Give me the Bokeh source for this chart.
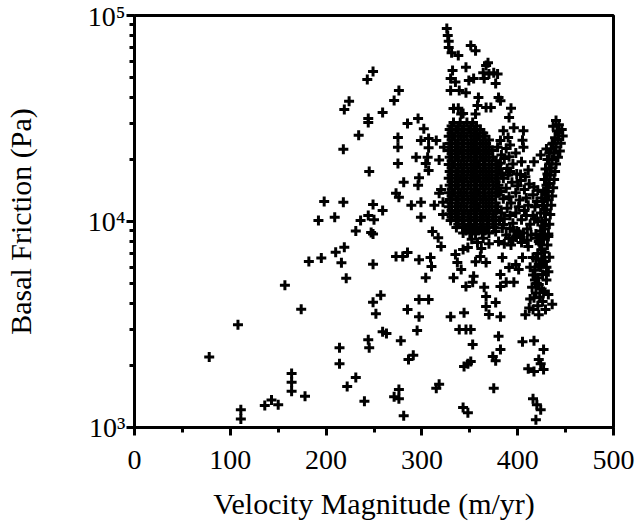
from bokeh.plotting import figure
from bokeh.models import Range1d, FixedTicker, CustomJSTickFormatter
from bokeh.embed import file_html
from bokeh.resources import INLINE

# ---- data: (velocity m/yr, basal friction Pa) ----
sparse_pts = [
    (78, 2200), (108, 3150), (111, 1220), (111, 1100), (136, 1280), (143, 1360), (150, 1290),
    (157, 4900), (164, 1830), (164, 1660), (164, 1500), (174, 3750), (178, 1420), (182, 6400),
    (195, 6650), (210, 7100), (219, 7500), (216, 6300), (221, 5300), (231, 9000), (249, 8700),
    (249, 6200), (249, 4050), (257, 4380), (252, 3570), (214, 2440), (214, 2040), (244, 2670),
    (245, 2440), (259, 2920), (231, 1750), (222, 1580), (240, 1340),
    (234, 26200), (218, 22400), (245, 17500), (198, 12500), (218, 12400), (192, 10100),
    (209, 10500), (249, 12100), (259, 11300), (236, 10100), (244, 10700), (250, 10200),
    (244, 30200), (249, 53500), (243, 48900), (224, 38300), (219, 35000), (244, 31600),
    (259, 33800), (247, 8850),
]

upper_mid_pts = [
    (276, 43200), (271, 38700), (285, 29900), (296, 31600), (302, 28200), (275, 25600),
    (275, 22900), (299, 24700), (307, 25300), (315, 24700), (275, 19100), (294, 20500),
    (304, 19100), (307, 17700), (281, 15500), (297, 16300), (296, 15000), (276, 13100),
    (273, 13700), (289, 12000), (299, 12400), (313, 12000), (318, 13700), (323, 22900),
    (307, 22800), (306, 20500), (318, 19900), (299, 10500), (320, 14300), (322, 12400),
    (322, 10800),
]

spike_pts = [
    (326, 86500), (327, 80000), (328, 75000), (328, 70000), (331, 66000), (338, 64000),
    (351, 71500), (356, 67400), (332, 54100), (346, 56000), (330, 49500), (335, 47500),
    (349, 48300), (354, 49500), (367, 57200), (364, 52700), (370, 52000), (379, 52000),
    (377, 46700), (365, 49500), (369, 59000), (375, 52700), (330, 43200), (339, 43200),
    (346, 42200), (380, 40000), (359, 40000), (358, 36600), (367, 35800), (372, 35800),
    (338, 35500), (341, 33300), (356, 33300), (382, 38600), (393, 35500), (391, 32000),
    (333, 35400), (343, 33400), (385, 27600), (390, 25600), (396, 28500), (406, 27600),
    (405, 24800), (406, 22900), (382, 24700), (379, 22900),
]

core_pts = [
    (333, 30200), (340, 30200), (347, 30200), (353, 30200),
    (329, 28000), (336, 28000), (342, 28000), (349, 28000), (355, 28000), (361, 28000),
    (328, 25900), (334, 25900), (341, 25900), (347, 25900), (354, 25900), (360, 25900), (366, 25900),
    (329, 23900), (335, 23900), (342, 23900), (348, 23900), (354, 23900), (361, 23900), (367, 23900),
    (328, 22100), (335, 22100), (341, 22100), (348, 22100), (354, 22100), (360, 22100), (367, 22100),
    (373, 22100),
    (329, 20500), (335, 20500), (342, 20500), (348, 20500), (355, 20500), (361, 20500), (367, 20500),
    (374, 20500),
    (328, 18900), (334, 18900), (341, 18900), (347, 18900), (354, 18900), (360, 18900), (366, 18900),
    (373, 18900), (379, 18900),
    (329, 17500), (336, 17500), (342, 17500), (348, 17500), (354, 17500), (361, 17500), (367, 17500),
    (373, 17500), (380, 17500),
    (328, 16200), (335, 16200), (341, 16200), (347, 16200), (354, 16200), (360, 16200), (367, 16200),
    (373, 16200), (379, 16200),
    (329, 15000), (335, 15000), (342, 15000), (348, 15000), (355, 15000), (361, 15000), (367, 15000),
    (374, 15000), (380, 15000),
    (328, 13800), (334, 13800), (341, 13800), (347, 13800), (354, 13800), (360, 13800), (366, 13800),
    (373, 13800), (379, 13800),
    (329, 12800), (336, 12800), (342, 12800), (348, 12800), (354, 12800), (361, 12800), (367, 12800),
    (373, 12800),
    (328, 11800), (335, 11800), (341, 11800), (347, 11800), (354, 11800), (360, 11800), (367, 11800),
    (373, 11800), (379, 11800),
    (329, 10900), (335, 10900), (342, 10900), (348, 10900), (355, 10900), (361, 10900), (367, 10900),
    (374, 10900),
    (330, 10100), (336, 10100), (342, 10100), (349, 10100), (355, 10100), (361, 10100), (368, 10100),
    (374, 10100), (381, 10100),
    (336, 9350), (343, 9350), (349, 9350), (355, 9350), (362, 9350), (368, 9350), (375, 9350),
    (343, 8800), (350, 8800), (356, 8800), (363, 8800), (370, 8800),
]

core_fill_pts = [
    (331, 29100), (338, 29100), (344, 29100), (351, 29100), (357, 29100),
    (331, 26900), (338, 26900), (344, 26900), (351, 26900), (357, 26900), (364, 26900),
    (331, 24900), (338, 24900), (344, 24900), (351, 24900), (357, 24900), (364, 24900), (370, 24900),
    (331, 23000), (338, 23000), (344, 23000), (351, 23000), (357, 23000), (364, 23000), (370, 23000),
    (331, 21300), (338, 21300), (344, 21300), (351, 21300), (357, 21300), (364, 21300), (370, 21300),
    (331, 19700), (338, 19700), (344, 19700), (351, 19700), (357, 19700), (364, 19700), (370, 19700),
    (377, 19700),
    (331, 18200), (338, 18200), (344, 18200), (351, 18200), (357, 18200), (364, 18200), (370, 18200),
    (377, 18200),
    (331, 16800), (338, 16800), (344, 16800), (351, 16800), (357, 16800), (364, 16800), (370, 16800),
    (377, 16800),
    (331, 15600), (338, 15600), (344, 15600), (351, 15600), (357, 15600), (364, 15600), (370, 15600),
    (377, 15600),
    (331, 14400), (338, 14400), (344, 14400), (351, 14400), (357, 14400), (364, 14400), (370, 14400),
    (377, 14400),
    (331, 13300), (338, 13300), (344, 13300), (351, 13300), (357, 13300), (364, 13300), (370, 13300),
    (377, 13300),
    (331, 12300), (338, 12300), (344, 12300), (351, 12300), (357, 12300), (364, 12300), (370, 12300),
    (377, 12300),
    (331, 11300), (338, 11300), (344, 11300), (351, 11300), (357, 11300), (364, 11300), (370, 11300),
    (377, 11300),
    (331, 10500), (338, 10500), (344, 10500), (351, 10500), (357, 10500), (364, 10500), (370, 10500),
    (377, 10500),
    (338, 9700), (344, 9700), (351, 9700), (357, 9700), (364, 9700), (370, 9700), (377, 9700),
    (346, 9050), (353, 9050), (359, 9050), (366, 9050),
]

mid_pts = [
    (388, 22600), (398, 21500), (386, 20200), (395, 19000), (404, 19500), (389, 18100),
    (399, 17000), (385, 16200), (394, 15500), (403, 15800), (412, 15200), (388, 14500),
    (398, 13800), (407, 14300), (416, 13500), (385, 12900), (393, 12300), (402, 12700),
    (411, 12000), (420, 12500), (427, 11900), (389, 11600), (398, 11000), (407, 11300),
    (416, 10700), (424, 11000), (386, 10300), (395, 9800), (404, 10200), (413, 9700),
    (421, 10000), (392, 9260), (401, 8900), (410, 9200), (419, 8700), (391, 8300),
    (410, 8100), (418, 11800), (425, 13000), (421, 14200),
    (403, 16900), (411, 17800), (417, 19500), (424, 21000), (430, 22500), (436, 23800),
    (352, 8200), (358, 7900), (364, 8300), (370, 7800), (362, 7400), (388, 8600),
    (393, 7700), (399, 9000),
    (383, 21000), (392, 23500), (382, 19200), (391, 20600),
    (383, 17200), (392, 17500), (408, 16500), (390, 16800), (400, 14900),
    (409, 13000), (382, 14000), (391, 13200), (417, 14700), (383, 11000),
    (392, 10700), (401, 11800), (409, 10700), (418, 10300), (384, 9300),
    (396, 9000), (406, 8800), (414, 8600), (398, 8400), (404, 7900),
    (386, 7800), (420, 8300),
]

column_pts = [
    (440, 30900), (443, 29500), (446, 28000), (443, 27000), (447, 26000), (442, 25000),
    (445, 24000), (440, 23000), (444, 22000), (438, 21500), (442, 20500), (436, 20000),
    (440, 19000), (435, 18200), (439, 17500), (434, 16800), (438, 16000), (433, 15300),
    (437, 14600), (432, 14000), (436, 13300), (431, 12700), (435, 12000), (430, 11400),
    (434, 10800), (429, 10200), (433, 9700), (428, 9200), (432, 8700), (427, 8200),
    (431, 7700), (428, 7100), (433, 6700), (425, 6500), (430, 6000),
    (422, 6190), (426, 5530), (422, 4950), (427, 4570), (426, 4090), (429, 3740),
    (422, 3530), (416, 3740), (408, 3530), (417, 4270), (432, 5710), (432, 4420),
    (436, 3960), (421, 5340), (420, 5000), (425, 4700), (430, 5200), (418, 5800),
    (428, 6400), (423, 4300), (419, 4500),
    (437, 29000), (441, 27500), (439, 25500), (437, 24000), (435, 22500), (433, 21500),
    (431, 20000), (433, 19000), (429, 18000), (431, 17000), (428, 16000), (430, 15000),
    (427, 14000), (429, 13000), (426, 12000), (428, 11000), (425, 10000), (427, 9500),
    (424, 9000), (426, 8500), (423, 7800), (425, 7300), (421, 7000), (419, 6600),
    (424, 6000), (416, 5500), (413, 6000), (418, 5200), (415, 4800), (413, 4200),
    (421, 3900), (412, 3800),
]

low_pts = [
    (273, 6760), (280, 6760), (285, 7070), (297, 6530), (309, 6680), (310, 6050),
    (304, 5340), (311, 8930), (317, 8350), (320, 7570), (297, 4180), (307, 4180),
    (285, 3740), (297, 3450), (330, 3450), (344, 3610), (333, 5340), (341, 5840),
    (346, 4840), (354, 5420), (353, 5070), (335, 6920), (343, 7320), (348, 7480),
    (356, 6380), (361, 6760), (367, 6320), (365, 4790), (367, 4320), (367, 3870),
    (377, 4040), (370, 3540), (382, 3450), (382, 4840), (388, 5070), (396, 5070),
    (382, 5530), (391, 5980), (398, 6190), (401, 5840), (384, 6690), (380, 7990),
    (377, 8930), (385, 9680), (395, 8180), (403, 8370), (411, 7570), (422, 7990),
    (432, 8450), (405, 6690), (416, 6690), (337, 6320), (349, 9680),
    (263, 2860), (278, 2640), (295, 2960), (291, 2240), (286, 2140), (339, 2990),
    (346, 2990), (351, 2990), (353, 2530), (348, 2040), (344, 1980), (351, 2090),
    (380, 2770), (382, 2390), (374, 2210), (377, 2110), (405, 2610), (417, 2640),
    (427, 2390), (411, 1930), (417, 1870), (424, 2040), (427, 1910), (422, 2140),
    (318, 1620), (315, 1550), (276, 1530), (271, 1410), (276, 1380), (281, 1140),
    (375, 1550), (343, 1250), (348, 1180), (416, 1380), (420, 1290), (424, 1220),
    (419, 1090),
]

x_ticks = [0, 100, 200, 300, 400, 500]
x_minor_ticks = [50, 150, 250, 350, 450]
y_ticks = [1000, 10000, 100000]
y_tick_labels = ["10\u00b3", "10\u2074", "10\u2075"]
y_minor_ticks = [2000, 3000, 4000, 5000, 6000, 7000, 8000, 9000,
                 20000, 30000, 40000, 50000, 60000, 70000, 80000, 90000]

x_label = "Velocity Magnitude (m/yr)"
y_label = "Basal Friction (Pa)"

FONT = "Liberation Serif"

groups = [sparse_pts, upper_mid_pts, spike_pts, core_pts, core_fill_pts, mid_pts, column_pts, low_pts]
xs = [v for g in groups for v, _ in g]
ys = [f for g in groups for _, f in g]

p = figure(width=638, height=524, output_backend="svg", toolbar_location=None,
           x_range=Range1d(0, 500), y_range=Range1d(1000, 100000), y_axis_type="log",
           min_border_left=133, min_border_right=25, min_border_top=15, min_border_bottom=97)

p.scatter(xs, ys, marker="cross", size=10, line_width=3, line_color="black")

p.grid.visible = False
p.outline_line_color = "black"
p.outline_line_width = 3
p.background_fill_color = "white"
p.border_fill_color = "white"

xa = p.xaxis[0]
ya = p.yaxis[0]
xa.ticker = FixedTicker(ticks=x_ticks, minor_ticks=x_minor_ticks)
ya.ticker = FixedTicker(ticks=y_ticks, minor_ticks=y_minor_ticks)
ya.formatter = CustomJSTickFormatter(args=dict(vals=y_ticks, labs=y_tick_labels), code="""
const i = vals.findIndex(v => Math.abs(v - tick) < 1e-6 * v);
return i >= 0 ? labs[i] : '';
""")

for ax in (xa, ya):
    ax.axis_line_width = 3
    ax.axis_line_color = "black"
    ax.major_tick_line_width = 3
    ax.minor_tick_line_width = 3
    ax.major_tick_out = 8
    ax.major_tick_in = 0
    ax.minor_tick_out = 5
    ax.minor_tick_in = 0
    ax.major_label_text_font = FONT
    ax.major_label_text_font_size = "28px"
    ax.major_label_text_color = "black"
    ax.axis_label_text_font = FONT
    ax.axis_label_text_font_size = "30px"
    ax.axis_label_text_font_style = "normal"
    ax.axis_label_text_color = "black"

xa.axis_label = x_label
ya.axis_label = y_label
xa.major_label_standoff = 15
xa.axis_label_standoff = 15
ya.major_label_standoff = 1
ya.axis_label_standoff = 48

open("out.html", "w").write(file_html(p, INLINE))
